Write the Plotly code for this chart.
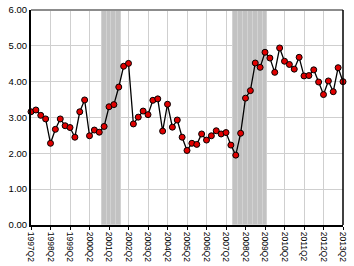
import plotly.graph_objects as go

quarters = []
for y in range(1997, 2014):
    for q in range(1, 5):
        if (y == 1997 and q < 2) or (y == 2013 and q > 2):
            continue
        quarters.append(f"{y}Q{q}")

values = [3.16, 3.21, 3.06, 2.96, 2.28, 2.67, 2.96, 2.77, 2.72, 2.45,
          3.16, 3.49, 2.49, 2.65, 2.59, 2.75, 3.30, 3.36, 3.85, 4.43,
          4.51, 2.82, 3.01, 3.18, 3.08, 3.48, 3.52, 2.62, 3.37, 2.73,
          2.93, 2.45, 2.08, 2.28, 2.25, 2.54, 2.37, 2.49, 2.63, 2.54,
          2.58, 2.23, 1.95, 2.56, 3.54, 3.75, 4.52, 4.40, 4.82, 4.66,
          4.26, 4.94, 4.57, 4.48, 4.35, 4.68, 4.16, 4.17, 4.33, 3.99,
          3.64, 4.02, 3.72, 4.39, 4.00]

recession_quarters = ["2001Q1", "2001Q2", "2001Q3", "2001Q4",
                      "2007Q4", "2008Q1", "2008Q2", "2008Q3", "2008Q4",
                      "2009Q1", "2009Q2"]

tick_labels = [q for q in quarters if q.endswith("Q2")]

x_idx = list(range(len(quarters)))
rec_x = [quarters.index(q) for q in recession_quarters]
tick_vals = [quarters.index(q) for q in tick_labels]

fig = go.Figure()
fig.add_trace(go.Bar(
    x=rec_x, y=[6.0] * len(rec_x), width=1.0,
    marker=dict(color="#c2c2c2", line=dict(color="#d2d2d2", width=1)),
    hoverinfo="skip", showlegend=False,
))
fig.add_trace(go.Scatter(
    x=x_idx, y=values, mode="lines+markers",
    line=dict(color="black", width=1.3),
    marker=dict(color="#e00000", size=6, line=dict(color="black", width=1)),
    cliponaxis=False, showlegend=False,
))

fam = "Liberation Sans, Arial, sans-serif"

fig.update_layout(
    width=354, height=266,
    margin=dict(l=31, r=11, t=10, b=41),
    paper_bgcolor="white", plot_bgcolor="white",
    bargap=0,
    font=dict(family=fam, size=9, color="black"),
    xaxis=dict(
        range=[0, 64], tickvals=tick_vals, ticktext=tick_labels,
        tickangle=90, tickfont=dict(family=fam, size=8.5, color="black"),
        showgrid=True, gridcolor="#cfcfcf", gridwidth=1.2,
        showline=True, linecolor="black", linewidth=2, mirror=False,
        ticks="outside", ticklen=3, tickcolor="black", zeroline=False,
        automargin=False,
    ),
    yaxis=dict(
        range=[0, 6], tickvals=[0, 1, 2, 3, 4, 5, 6],
        ticktext=["0.00", "1.00", "2.00", "3.00", "4.00", "5.00", "6.00"],
        tickfont=dict(family=fam, size=9.5, color="black"),
        showgrid=True, gridcolor="#cfcfcf", gridwidth=1.2,
        showline=True, linecolor="black", linewidth=2,
        ticks="", zeroline=False, automargin=False,
    ),
    shapes=[
        dict(type="line", xref="paper", yref="paper", x0=0, x1=1, y0=1, y1=1,
             line=dict(color="#8c8c8c", width=2)),
        dict(type="line", xref="paper", yref="paper", x0=1, x1=1, y0=0, y1=1,
             line=dict(color="black", width=1.5)),
    ],
)

fig.write_html("out.html")
